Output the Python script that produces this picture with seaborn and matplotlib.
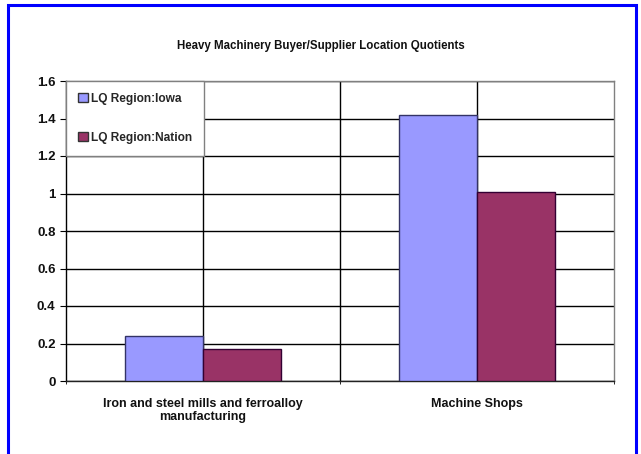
import pandas as pd
import matplotlib.pyplot as plt
import seaborn as sns
from matplotlib.patches import Rectangle

# data
categories = ['Iron and steel mills and ferroalloy\nmanufacturing', 'Machine Shops']
iowa = [0.24, 1.42]
nation = [0.17, 1.01]
series = ['LQ Region:Iowa', 'LQ Region:Nation']

df = pd.DataFrame({
    'category': categories * 2,
    'value': iowa + nation,
    'series': [series[0]] * 2 + [series[1]] * 2,
})

sns.set_style('white')
plt.rcParams['font.family'] = ['Liberation Sans', 'DejaVu Sans']
plt.rcParams['font.weight'] = 'bold'

fig = plt.figure(figsize=(6.41, 4.54), dpi=100)
ax = fig.add_axes([66/641, 1 - 381/454, (614 - 66)/641, 300/454])

sns.barplot(data=df, x='category', y='value', hue='series', order=categories,
            hue_order=series, palette=['#9999FF', '#993366'], width=0.57,
            edgecolor='#333333', linewidth=1, saturation=1, ax=ax, zorder=3)
# darker edges per series
for p in ax.patches[:2]:
    p.set_edgecolor('#333366')
for p in ax.patches[2:4]:
    p.set_edgecolor('#330033')

ax.set_xlim(-0.5, 1.5)
ax.set_ylim(0, 1.6)
ax.set_yticks([0, 0.2, 0.4, 0.6, 0.8, 1, 1.2, 1.4, 1.6])
ax.set_yticklabels(['0', '0.2', '0.4', '0.6', '0.8', '1', '1.2', '1.4', '1.6'])
ax.yaxis.grid(True, color='black', linewidth=1)
for x in [0, 0.5, 1]:
    ax.axvline(x, color='black', linewidth=1, zorder=1)
ax.set_axisbelow(True)

ax.set_xticks([-0.5, 0.5, 1.5], minor=True)
ax.tick_params(axis='x', which='major', length=0, pad=12, labelsize=9)
ax.tick_params(axis='x', which='minor', length=4, color='black', direction='inout', bottom=True)
ax.tick_params(axis='y', length=4, color='black', direction='out', left=True, labelsize=9.5)
for lab in ax.get_xticklabels() + ax.get_yticklabels():
    lab.set_fontweight('bold')
    lab.set_color('#111111')

ax.set_xlabel('')
ax.set_ylabel('')
ax.spines['left'].set_color('black')
ax.spines['bottom'].set_color('#222222')
ax.spines['top'].set_color('#808080')
ax.spines['right'].set_color('#808080')
for s in ax.spines.values():
    s.set_linewidth(1)

fig.text(0.5, 1 - 46/454, 'Heavy Machinery Buyer/Supplier Location Quotients',
         ha='center', va='center', fontsize=8.3, fontweight='bold', color='#111111')

leg = ax.legend(loc='upper left', bbox_to_anchor=(0, 1), frameon=True, fancybox=False,
                borderaxespad=0, borderpad=1.0, labelspacing=2.25, handlelength=0.8,
                handleheight=0.8, handletextpad=0.3, prop={'size': 8.6, 'weight': 'bold'})
leg.get_frame().set_edgecolor('#808080')
leg.get_frame().set_linewidth(1)
leg.get_frame().set_alpha(1)
leg.set_zorder(5)
for h in leg.legend_handles:
    h.set_edgecolor('#333333')

# outer blue border
fig.patches.append(Rectangle((8/641, -0.1), (636 - 8)/641, 1.1 - 5/454,
                             transform=fig.transFigure, fill=False,
                             edgecolor='#0000FF', linewidth=2.2))

fig.savefig('out.png', dpi=100)
